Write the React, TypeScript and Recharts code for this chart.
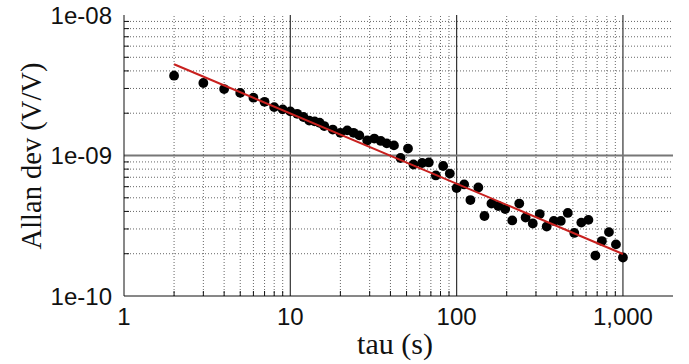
import React from "react";
import {
  ScatterChart,
  Scatter,
  XAxis,
  YAxis,
  ReferenceLine,
} from "recharts";

// ── Data ─────────────────────────────────────────────────────
const TAU = [
  2, 3, 4, 5, 6, 7, 8, 9, 10, 11, 12, 13, 14, 15, 16, 18, 20, 22, 24, 26, 29,
  32, 35, 38, 42, 46, 51, 55, 62, 68, 75, 83, 91, 100, 111, 121, 135, 147, 162,
  178, 196, 216, 238, 260, 287, 316, 348, 384, 423, 466, 510, 562, 620, 683,
  747, 824, 908, 1000,
];
const ADEV = [
  3.7e-9, 3.28e-9, 2.97e-9, 2.79e-9, 2.58e-9, 2.41e-9, 2.21e-9, 2.13e-9,
  2.06e-9, 1.98e-9, 1.88e-9, 1.77e-9, 1.75e-9, 1.71e-9, 1.62e-9, 1.53e-9,
  1.45e-9, 1.51e-9, 1.45e-9, 1.39e-9, 1.28e-9, 1.32e-9, 1.27e-9, 1.22e-9,
  1.18e-9, 9.6e-10, 1.12e-9, 8.63e-10, 8.84e-10, 8.92e-10, 7.21e-10, 8.42e-10,
  7.44e-10, 5.87e-10, 6.22e-10, 4.82e-10, 5.92e-10, 3.71e-10, 4.55e-10,
  4.37e-10, 4.16e-10, 3.45e-10, 4.55e-10, 3.62e-10, 3.28e-10, 3.83e-10,
  3.12e-10, 3.42e-10, 3.42e-10, 3.9e-10, 2.81e-10, 3.33e-10, 3.48e-10,
  1.94e-10, 2.46e-10, 2.85e-10, 2.33e-10, 1.88e-10,
];
// fitted tau^-1/2 line, end points
const FIT_TAU = [2, 1000];
const FIT_ADEV = [4.46e-9, 1.99e-10];

// ── Axes / grid values ───────────────────────────────────────
const X_DOMAIN = [1, 2000];
const Y_DOMAIN = [1e-10, 1e-8];
const X_MAJOR = [1, 10, 100, 1000];
const X_LABELS = ["1", "10", "100", "1,000"];
const Y_MAJOR = [1e-10, 1e-9, 1e-8];
const Y_LABELS = ["1e-10", "1e-09", "1e-08"];
const X_MINOR = [
  2, 3, 4, 5, 6, 7, 8, 9, 20, 30, 40, 50, 60, 70, 80, 90, 200, 300, 400, 500,
  600, 700, 800, 900,
];
const Y_MINOR = [
  2e-10, 3e-10, 4e-10, 5e-10, 6e-10, 7e-10, 8e-10, 9e-10, 2e-9, 3e-9, 4e-9,
  5e-9, 6e-9, 7e-9, 8e-9, 9e-9,
];
const X_GRID_MAJOR = [10, 100, 1000];
const Y_GRID_MAJOR = [1e-9];

const X_TICKS = [...X_MAJOR, ...X_MINOR].sort((a, b) => a - b);
const Y_TICKS = [...Y_MAJOR, ...Y_MINOR].sort((a, b) => a - b);

const points = TAU.map((tau, i) => ({ tau, adev: ADEV[i] }));
const fit = FIT_TAU.map((tau, i) => ({ tau, adev: FIT_ADEV[i] }));

const COLORS = {
  border: "#111",
  majorX: "#333",
  majorY: "#777",
  minor: "#666",
  fit: "#c8201e",
  dot: "#000",
  text: "#111",
};
const TICK_FONT = "'Liberation Sans', Arial, sans-serif";
const TITLE_FONT = "'Liberation Serif', 'Times New Roman', serif";
const TICK_LEN = 5;
const Y_TICK_MARGIN = 12;

// ── Custom ticks (inner minor tick marks + labels) ───────────

// eslint-disable-next-line @typescript-eslint/no-explicit-any
function LeftTick(props: any) {
  const { x, y, payload } = props;
  const i = Y_MAJOR.indexOf(payload.value);
  const ax = x + Y_TICK_MARGIN;
  if (i < 0) {
    return <line x1={ax} x2={ax + TICK_LEN} y1={y} y2={y} stroke={COLORS.border} />;
  }
  return (
    <text
      x={x}
      y={y}
      textAnchor="end"
      dominantBaseline="central"
      fontSize={24}
      fill={COLORS.text}
      style={{ fontFamily: TICK_FONT }}
    >
      {Y_LABELS[i]}
    </text>
  );
}

// eslint-disable-next-line @typescript-eslint/no-explicit-any
function BottomTick(props: any) {
  const { x, y, payload } = props;
  const i = X_MAJOR.indexOf(payload.value);
  if (i < 0) {
    return <line x1={x} x2={x} y1={y} y2={y - TICK_LEN} stroke={COLORS.border} />;
  }
  return (
    <text
      x={x}
      y={y + 29}
      textAnchor="middle"
      fontSize={24}
      fill={COLORS.text}
      style={{ fontFamily: TICK_FONT }}
    >
      {X_LABELS[i]}
    </text>
  );
}

// eslint-disable-next-line @typescript-eslint/no-explicit-any
function RightTick(props: any) {
  const { x, y, payload } = props;
  if (Y_MAJOR.includes(payload.value)) return <g />;
  return <line x1={x} x2={x - TICK_LEN} y1={y} y2={y} stroke={COLORS.border} />;
}

// eslint-disable-next-line @typescript-eslint/no-explicit-any
function TopTick(props: any) {
  const { x, y, payload } = props;
  if (X_MAJOR.includes(payload.value)) return <g />;
  return <line x1={x} x2={x} y1={y} y2={y + TICK_LEN} stroke={COLORS.border} />;
}

// eslint-disable-next-line @typescript-eslint/no-explicit-any
function Dot(props: any) {
  const { cx, cy } = props;
  if (cx == null || cy == null) return <g />;
  return <circle cx={cx} cy={cy} r={4.9} fill={COLORS.dot} />;
}

// ── Main component ───────────────────────────────────────────

export default function App() {
  const W = 689;
  const H = 364;
  return (
    <div style={{ position: "fixed", left: 0, top: 0, width: W, height: H, background: "#fff" }}>
      <ScatterChart
        width={W}
        height={H}
        margin={{ top: 15, right: 16, bottom: 0, left: 0 }}
      >
        <XAxis
          dataKey="tau"
          type="number"
          scale="log"
          domain={X_DOMAIN}
          allowDataOverflow
          ticks={X_TICKS}
          interval={0}
          tickSize={0}
          tickMargin={0}
          tickLine={false}
          tick={BottomTick}
          axisLine={{ stroke: COLORS.border }}
          height={68}
        />
        <XAxis
          xAxisId="t"
          orientation="top"
          type="number"
          scale="log"
          domain={X_DOMAIN}
          allowDataOverflow
          ticks={X_TICKS}
          interval={0}
          tickSize={0}
          tickMargin={0}
          tickLine={false}
          tick={TopTick}
          axisLine={{ stroke: COLORS.border }}
          height={0}
        />
        <YAxis
          dataKey="adev"
          type="number"
          scale="log"
          domain={Y_DOMAIN}
          allowDataOverflow
          ticks={Y_TICKS}
          interval={0}
          tickSize={0}
          tickMargin={Y_TICK_MARGIN}
          tickLine={false}
          tick={LeftTick}
          axisLine={{ stroke: COLORS.border }}
          width={124}
        />
        <YAxis
          yAxisId="r"
          orientation="right"
          type="number"
          scale="log"
          domain={Y_DOMAIN}
          allowDataOverflow
          ticks={Y_TICKS}
          interval={0}
          tickSize={0}
          tickMargin={0}
          tickLine={false}
          tick={RightTick}
          axisLine={{ stroke: COLORS.border }}
          width={0}
        />

        {X_MINOR.map((v) => (
          <ReferenceLine key={`xm${v}`} x={v} stroke={COLORS.minor} strokeDasharray="1 2" />
        ))}
        {Y_MINOR.map((v) => (
          <ReferenceLine key={`ym${v}`} y={v} stroke={COLORS.minor} strokeDasharray="1 2" />
        ))}
        {X_GRID_MAJOR.map((v) => (
          <ReferenceLine key={`xM${v}`} x={v} stroke={COLORS.majorX} strokeWidth={1.2} />
        ))}
        {Y_GRID_MAJOR.map((v) => (
          <ReferenceLine key={`yM${v}`} y={v} stroke={COLORS.majorY} strokeWidth={1.8} />
        ))}

        <Scatter data={points} shape={Dot} isAnimationActive={false} />
        <Scatter
          data={fit}
          line={{ stroke: COLORS.fit, strokeWidth: 2 }}
          shape={() => <g />}
          isAnimationActive={false}
        />
      </ScatterChart>

      <svg
        width={W}
        height={H}
        style={{ position: "absolute", left: 0, top: 0, pointerEvents: "none" }}
      >
        <text
          x={395}
          y={354}
          textAnchor="middle"
          fontSize={30}
          fill={COLORS.text}
          style={{ fontFamily: TITLE_FONT }}
        >
          tau (s)
        </text>
        <text
          transform="translate(41,156) rotate(-90)"
          textAnchor="middle"
          fontSize={28.5}
          fill={COLORS.text}
          style={{ fontFamily: TITLE_FONT }}
        >
          Allan dev (V/V)
        </text>
      </svg>
    </div>
  );
}
